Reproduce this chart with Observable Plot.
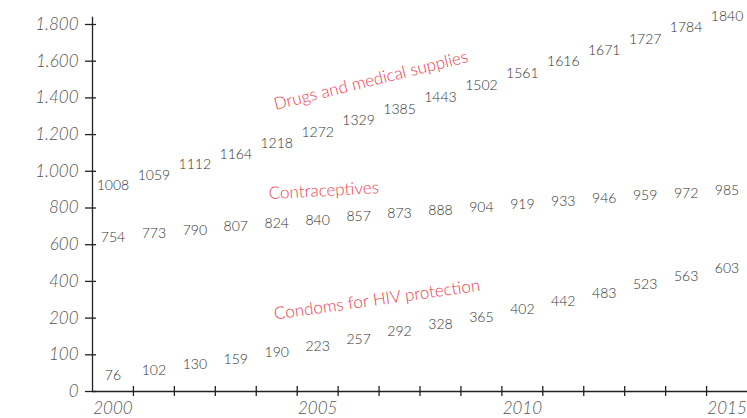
<!DOCTYPE html>
<html>
<head>
<meta charset="utf-8">
<script src="https://cdn.jsdelivr.net/npm/d3@7"></script>
<script src="https://cdn.jsdelivr.net/npm/@observablehq/plot@0.6"></script>
<style>
  html, body { margin: 0; padding: 0; background: #fff; }
  svg { display: block; }
</style>
</head>
<body>
<div id="chart"></div>
<script>
const years = d3.range(2000, 2016);
const drugs = [1008, 1059, 1112, 1164, 1218, 1272, 1329, 1385, 1443, 1502, 1561, 1616, 1671, 1727, 1784, 1840];
const contraceptives = [754, 773, 790, 807, 824, 840, 857, 873, 888, 904, 919, 933, 946, 959, 972, 985];
const condoms = [76, 102, 130, 159, 190, 223, 257, 292, 328, 365, 402, 442, 483, 523, 563, 603];

const yTickValues = [0, 180, 360, 540, 720, 900, 1080, 1260, 1440, 1620, 1800];
const yTickLabels = ["0", "100", "200", "400", "600", "800", "1.000", "1.200", "1.400", "1.600", "1.800"];
const xLabelYears = [2000, 2005, 2010, 2015];
const xTickYears = d3.range(2000.5, 2015, 1);

const seriesNames = ["Drugs and medical supplies", "Contraceptives", "Condoms for HIV protection"];
const seriesLabelYears = [2006.3, 2005.15, 2006.45];
const seriesLabelValues = [1525, 985, 450];
const seriesLabelAngles = [-14, -3, -8];

const points = [
  ...years.map((y, i) => ({year: y, value: drugs[i]})),
  ...years.map((y, i) => ({year: y, value: contraceptives[i]})),
  ...years.map((y, i) => ({year: y, value: condoms[i]}))
];
const seriesLabels = seriesNames.map((n, i) => ({name: n, year: seriesLabelYears[i], value: seriesLabelValues[i], angle: seriesLabelAngles[i]}));

const font = "Lato, 'Open Sans', sans-serif";

const chart = Plot.plot({
  width: 747,
  height: 418,
  marginLeft: 92,
  marginRight: 0,
  marginTop: 24,
  marginBottom: 27,
  style: {fontFamily: font, background: "#fff"},
  x: {domain: [1999.5, 2015.5], axis: null},
  y: {domain: [0, 1800], axis: null, label: null},
  marks: [
    Plot.ruleX([1999.5], {y1: 0, y2: 1835, stroke: "#222", strokeWidth: 1.3}),
    Plot.ruleY([0], {stroke: "#222", strokeWidth: 1.3}),
    Plot.axisY(yTickValues, {tickSize: 11, dx: 4, fill: "none", stroke: "#222", strokeWidth: 1.3, label: null}),
    Plot.axisY(yTickValues, {tickSize: 0, tickPadding: 14, tickFormat: (d, i) => yTickLabels[i], fill: "#555", fontSize: 17, fontStyle: "italic", fontWeight: 300, label: null}),
    Plot.axisX(xTickYears, {tickSize: 10, dy: -5, fill: "none", stroke: "#222", strokeWidth: 1.3, label: null}),
    Plot.axisX(xLabelYears, {tickSize: 0, tickPadding: 10, tickFormat: d => String(d), fill: "#555", fontSize: 17, fontStyle: "italic", fontWeight: 300, label: null}),
    Plot.text(points, {x: "year", y: "value", text: d => String(d.value), fill: "#333", fontSize: 14, fontWeight: 300}),
    Plot.text(seriesLabels, {x: "year", y: "value", text: "name", rotate: "angle", fill: "#ef3b4f", fontSize: 17, fontWeight: 300})
  ]
});
document.getElementById("chart").appendChild(chart);
</script>
</body>
</html>
